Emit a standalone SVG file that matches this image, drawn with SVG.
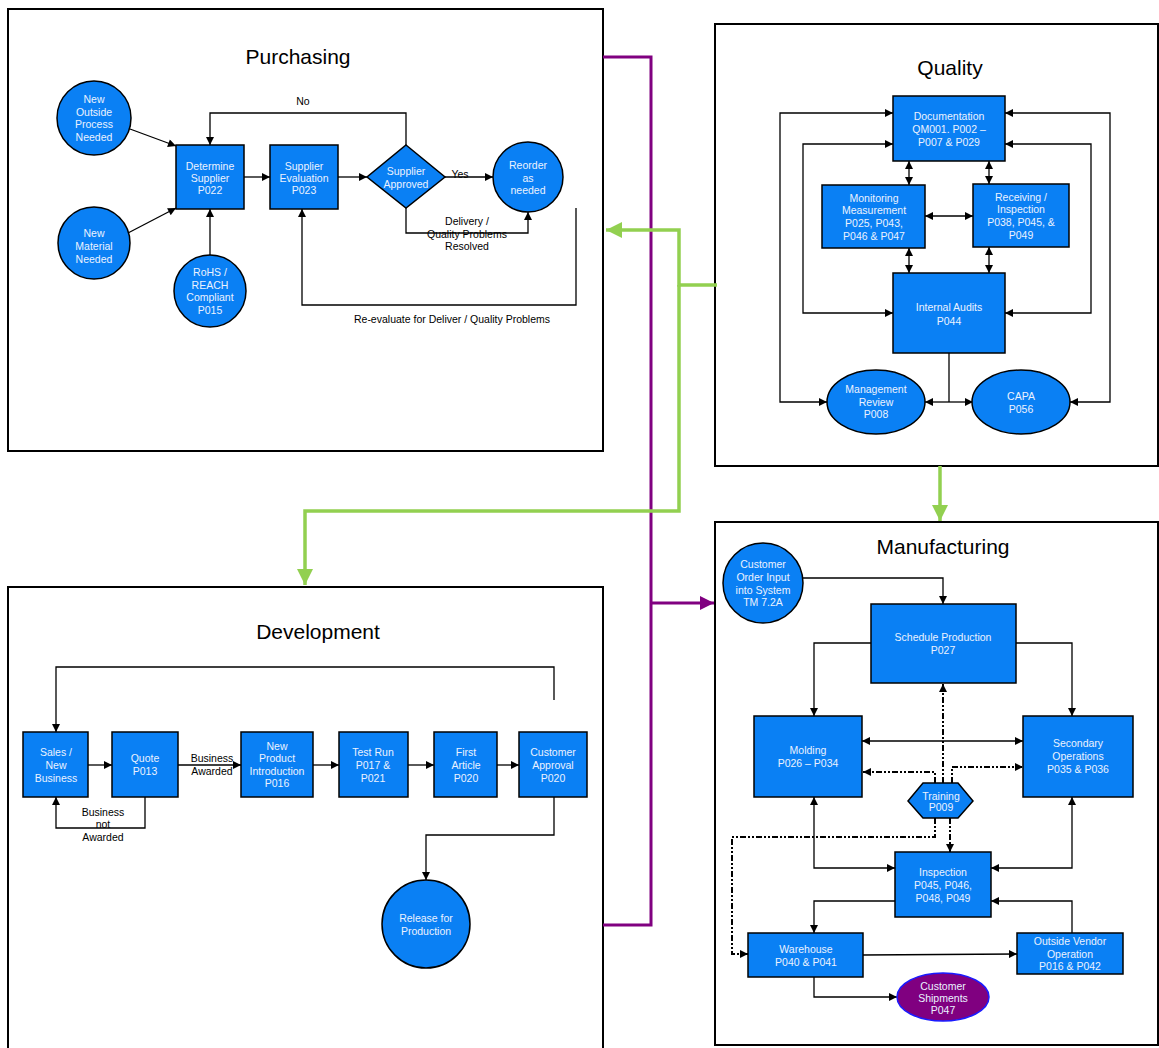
<svg xmlns="http://www.w3.org/2000/svg" width="1159" height="1048" viewBox="0 0 1159 1048">
<style>
.frame{fill:#fff;stroke:#000;stroke-width:2}
.title{font-family:"Liberation Sans",Arial,sans-serif;font-size:21px;fill:#000;text-anchor:middle}
.n{fill:#0A80F4;stroke:#000;stroke-width:1.5}
.t{font-family:"Liberation Sans",Arial,sans-serif;font-size:10.5px;fill:#EAF2FF;text-anchor:middle}
.lbl{font-family:"Liberation Sans",Arial,sans-serif;font-size:10.5px;fill:#000;text-anchor:middle}
.c{fill:none;stroke:#000;stroke-width:1.3}
.a{marker-end:url(#ah)}
.d{marker-start:url(#ah);marker-end:url(#ah)}
.dd{fill:none;stroke:#000;stroke-width:2;stroke-dasharray:6 2 2 2 2 2}
.grn{fill:none;stroke:#92D050;stroke-width:3.5}
.pur{fill:none;stroke:#800080;stroke-width:3}
</style>
<defs>
<marker id="ah" viewBox="0 0 10 10" refX="10" refY="5" markerWidth="9" markerHeight="8" markerUnits="userSpaceOnUse" orient="auto-start-reverse">
<path d="M0,0 L10,5 L0,10 z" fill="#000"/>
</marker>
<marker id="ahd" viewBox="0 0 10 10" refX="10" refY="5" markerWidth="8" markerHeight="8" markerUnits="userSpaceOnUse" orient="auto-start-reverse">
<path d="M0,0 L10,5 L0,10 z" fill="#000"/>
</marker>
<marker id="ag" viewBox="0 0 10 10" refX="10" refY="5" markerWidth="18" markerHeight="16" markerUnits="userSpaceOnUse" orient="auto">
<path d="M0,0 L10,5 L0,10 z" fill="#92D050"/>
</marker>
<marker id="ap" viewBox="0 0 10 10" refX="10" refY="5" markerWidth="16" markerHeight="14" markerUnits="userSpaceOnUse" orient="auto">
<path d="M0,0 L10,5 L0,10 z" fill="#800080"/>
</marker>
</defs>

<g id="frames">
<rect class="frame" x="8" y="9" width="595" height="442"/>
<rect class="frame" x="715" y="24" width="443" height="442"/>
<rect class="frame" x="8" y="587" width="595" height="470"/>
<rect class="frame" x="715" y="522" width="443" height="523"/>
<text class="title" x="298" y="64">Purchasing</text>
<text class="title" x="950" y="75">Quality</text>
<text class="title" x="318" y="639">Development</text>
<text class="title" x="943" y="554">Manufacturing</text>
</g>

<g id="connectors">
<polyline class="pur" points="603,57 651,57 651,925 603,925"/>
<line class="pur" x1="651" y1="603" x2="714" y2="603" marker-end="url(#ap)"/>
<polyline class="grn" points="717,285 679,285 679,230 606,230" marker-end="url(#ag)"/>
<polyline class="grn" points="679,285 679,511 305,511 305,585" marker-end="url(#ag)"/>
<line class="grn" x1="940" y1="466" x2="940" y2="521" marker-end="url(#ag)"/>

<line class="c a" x1="130" y1="129" x2="176" y2="146"/>
<line class="c a" x1="128" y1="233" x2="176" y2="208"/>
<line class="c a" x1="210" y1="255" x2="210" y2="209"/>
<line class="c a" x1="244" y1="177" x2="270" y2="177"/>
<line class="c a" x1="338" y1="177" x2="367" y2="177"/>
<line class="c a" x1="445" y1="177" x2="493" y2="177"/>
<polyline class="c a" points="406,145 406,113 210,113 210,145"/>
<polyline class="c a" points="406,208 406,233 528,233 528,212"/>
<polyline class="c a" points="576,208 576,305 302,305 302,209"/>

<polyline class="c d" points="893,113 780,113 780,402 827,402"/>
<polyline class="c d" points="893,144 803,144 803,313 893,313"/>
<polyline class="c d" points="1005,113 1110,113 1110,402 1070,402"/>
<polyline class="c d" points="1005,144 1091,144 1091,313 1005,313"/>
<line class="c d" x1="909" y1="161" x2="909" y2="185"/>
<line class="c d" x1="989" y1="161" x2="989" y2="184"/>
<line class="c d" x1="925" y1="216" x2="973" y2="216"/>
<line class="c d" x1="909" y1="248" x2="909" y2="273"/>
<line class="c d" x1="989" y1="247" x2="989" y2="273"/>
<line class="c" x1="949" y1="353" x2="949" y2="402"/>
<line class="c a" x1="949" y1="402" x2="925" y2="402"/>
<line class="c a" x1="949" y1="402" x2="973" y2="402"/>

<line class="c a" x1="88" y1="765" x2="112" y2="765"/>
<line class="c a" x1="178" y1="765" x2="241" y2="765"/>
<line class="c a" x1="313" y1="765" x2="339" y2="765"/>
<line class="c a" x1="408" y1="765" x2="434" y2="765"/>
<line class="c a" x1="497" y1="765" x2="519" y2="765"/>
<polyline class="c a" points="554,700 554,667 56,667 56,732"/>
<polyline class="c a" points="145,797 145,828 56,828 56,797"/>
<polyline class="c a" points="554,797 554,835 426,835 426,880"/>

<polyline class="c a" points="803,578 943,578 943,604"/>
<polyline class="c a" points="871,643 814,643 814,716"/>
<polyline class="c a" points="1016,643 1072,643 1072,716"/>
<line class="c d" x1="862" y1="741" x2="1023" y2="741"/>
<polyline class="c d" points="814,797 814,868 895,868"/>
<polyline class="c d" points="1072,797 1072,868 991,868"/>
<polyline class="c a" points="895,901 814,901 814,933"/>
<polyline class="c a" points="1072,933 1072,901 991,901"/>
<line class="c a" x1="863" y1="955" x2="1017" y2="954"/>
<polyline class="c a" points="814,977 814,997 897,997"/>
<line class="dd" x1="943" y1="783" x2="943" y2="684" marker-end="url(#ahd)"/>
<polyline class="dd" points="935,783 935,772 863,772" marker-end="url(#ahd)"/>
<polyline class="dd" points="952,783 952,767 1023,767" marker-end="url(#ahd)"/>
<polyline class="dd" points="935,818 935,837 732,837 732,954 748,954" marker-end="url(#ahd)"/>
<line class="dd" x1="950" y1="818" x2="950" y2="852" marker-end="url(#ahd)"/>
</g>

<g id="labels">
<text class="lbl" x="303" y="105">No</text>
<text class="lbl" x="460" y="178">Yes</text>
<text class="lbl" x="467" y="225">Delivery /<tspan x="467" y="238">Quality Problems</tspan><tspan x="467" y="250">Resolved</tspan></text>
<text class="lbl" x="452" y="323">Re-evaluate for Deliver / Quality Problems</text>
<text class="lbl" x="212" y="762">Business<tspan x="212" y="775">Awarded</tspan></text>
<text class="lbl" x="103" y="816">Business<tspan x="103" y="828">not</tspan><tspan x="103" y="841">Awarded</tspan></text>
</g>

<g id="p-outside"><circle class="n" cx="94" cy="118" r="37"/><text class="t" x="94" y="103">New<tspan x="94" y="115.5">Outside</tspan><tspan x="94" y="128">Process</tspan><tspan x="94" y="140.5">Needed</tspan></text></g>
<g id="p-material"><circle class="n" cx="94" cy="243" r="36"/><text class="t" x="94" y="237">New<tspan x="94" y="250">Material</tspan><tspan x="94" y="263">Needed</tspan></text></g>
<g id="p-determine"><rect class="n" x="176" y="145" width="68" height="64"/><text class="t" x="210" y="170">Determine<tspan x="210" y="182">Supplier</tspan><tspan x="210" y="194">P022</tspan></text></g>
<g id="p-evaluation"><rect class="n" x="270" y="145" width="68" height="64"/><text class="t" x="304" y="170">Supplier<tspan x="304" y="182">Evaluation</tspan><tspan x="304" y="194">P023</tspan></text></g>
<g id="p-rohs"><circle class="n" cx="210" cy="291" r="36"/><text class="t" x="210" y="276">RoHS /<tspan x="210" y="289">REACH</tspan><tspan x="210" y="301">Compliant</tspan><tspan x="210" y="314">P015</tspan></text></g>
<g id="p-approved"><polygon class="n" points="406,145 445,177 406,208 367,177"/><text class="t" x="406" y="175">Supplier<tspan x="406" y="188">Approved</tspan></text></g>
<g id="p-reorder"><circle class="n" cx="528" cy="177" r="35"/><text class="t" x="528" y="169">Reorder<tspan x="528" y="182">as</tspan><tspan x="528" y="194">needed</tspan></text></g>

<g id="q-doc"><rect class="n" x="893" y="96" width="112" height="65"/><text class="t" x="949" y="120">Documentation<tspan x="949" y="133">QM001. P002 –</tspan><tspan x="949" y="146">P007 &amp; P029</tspan></text></g>
<g id="q-monitor"><rect class="n" x="822" y="185" width="103" height="63"/><text class="t" x="874" y="202">Monitoring<tspan x="874" y="214">Measurement</tspan><tspan x="874" y="227">P025, P043,</tspan><tspan x="874" y="240">P046 &amp; P047</tspan></text></g>
<g id="q-receiving"><rect class="n" x="973" y="184" width="96" height="63"/><text class="t" x="1021" y="201">Receiving /<tspan x="1021" y="213">Inspection</tspan><tspan x="1021" y="226">P038, P045, &amp;</tspan><tspan x="1021" y="239">P049</tspan></text></g>
<g id="q-audits"><rect class="n" x="893" y="273" width="112" height="80"/><text class="t" x="949" y="311">Internal Audits<tspan x="949" y="325">P044</tspan></text></g>
<g id="q-mgmt"><ellipse class="n" cx="876" cy="402" rx="49" ry="32"/><text class="t" x="876" y="393">Management<tspan x="876" y="406">Review</tspan><tspan x="876" y="418">P008</tspan></text></g>
<g id="q-capa"><ellipse class="n" cx="1021" cy="402" rx="49" ry="32"/><text class="t" x="1021" y="400">CAPA<tspan x="1021" y="413">P056</tspan></text></g>

<g id="d-sales"><rect class="n" x="23" y="732" width="65" height="65"/><text class="t" x="56" y="756">Sales /<tspan x="56" y="769">New</tspan><tspan x="56" y="782">Business</tspan></text></g>
<g id="d-quote"><rect class="n" x="112" y="732" width="66" height="65"/><text class="t" x="145" y="762">Quote<tspan x="145" y="775">P013</tspan></text></g>
<g id="d-npi"><rect class="n" x="241" y="732" width="72" height="65"/><text class="t" x="277" y="750">New<tspan x="277" y="762">Product</tspan><tspan x="277" y="775">Introduction</tspan><tspan x="277" y="787">P016</tspan></text></g>
<g id="d-testrun"><rect class="n" x="339" y="732" width="69" height="65"/><text class="t" x="373" y="756">Test Run<tspan x="373" y="769">P017 &amp;</tspan><tspan x="373" y="782">P021</tspan></text></g>
<g id="d-first"><rect class="n" x="434" y="732" width="63" height="65"/><text class="t" x="466" y="756">First<tspan x="466" y="769">Article</tspan><tspan x="466" y="782">P020</tspan></text></g>
<g id="d-approval"><rect class="n" x="519" y="732" width="68" height="65"/><text class="t" x="553" y="756">Customer<tspan x="553" y="769">Approval</tspan><tspan x="553" y="782">P020</tspan></text></g>
<g id="d-release"><circle class="n" cx="426" cy="924" r="44"/><text class="t" x="426" y="922">Release for<tspan x="426" y="935">Production</tspan></text></g>

<g id="m-order"><circle class="n" cx="763" cy="583" r="40"/><text class="t" x="763" y="568">Customer<tspan x="763" y="581">Order Input</tspan><tspan x="763" y="594">into System</tspan><tspan x="763" y="606">TM 7.2A</tspan></text></g>
<g id="m-schedule"><rect class="n" x="871" y="604" width="145" height="79"/><text class="t" x="943" y="641">Schedule Production<tspan x="943" y="654">P027</tspan></text></g>
<g id="m-molding"><rect class="n" x="754" y="716" width="108" height="81"/><text class="t" x="808" y="754">Molding<tspan x="808" y="767">P026 – P034</tspan></text></g>
<g id="m-secondary"><rect class="n" x="1023" y="716" width="110" height="81"/><text class="t" x="1078" y="747">Secondary<tspan x="1078" y="760">Operations</tspan><tspan x="1078" y="773">P035 &amp; P036</tspan></text></g>
<g id="m-training"><polygon class="n" points="908,801 923,783 958,783 973,801 958,818 923,818"/><text class="t" x="941" y="800">Training<tspan x="941" y="811">P009</tspan></text></g>
<g id="m-inspection"><rect class="n" x="895" y="852" width="96" height="65"/><text class="t" x="943" y="876">Inspection<tspan x="943" y="889">P045, P046,</tspan><tspan x="943" y="902">P048, P049</tspan></text></g>
<g id="m-warehouse"><rect class="n" x="748" y="933" width="115" height="44"/><text class="t" x="806" y="953">Warehouse<tspan x="806" y="966">P040 &amp; P041</tspan></text></g>
<g id="m-vendor"><rect class="n" x="1017" y="933" width="106" height="41"/><text class="t" x="1070" y="945">Outside Vendor<tspan x="1070" y="958">Operation</tspan><tspan x="1070" y="970">P016 &amp; P042</tspan></text></g>
<g id="m-shipments"><ellipse cx="943" cy="997" rx="46" ry="24" fill="#800080" stroke="#1A1AFF" stroke-width="1.5"/><text class="t" x="943" y="990">Customer<tspan x="943" y="1002">Shipments</tspan><tspan x="943" y="1014">P047</tspan></text></g>
</svg>
